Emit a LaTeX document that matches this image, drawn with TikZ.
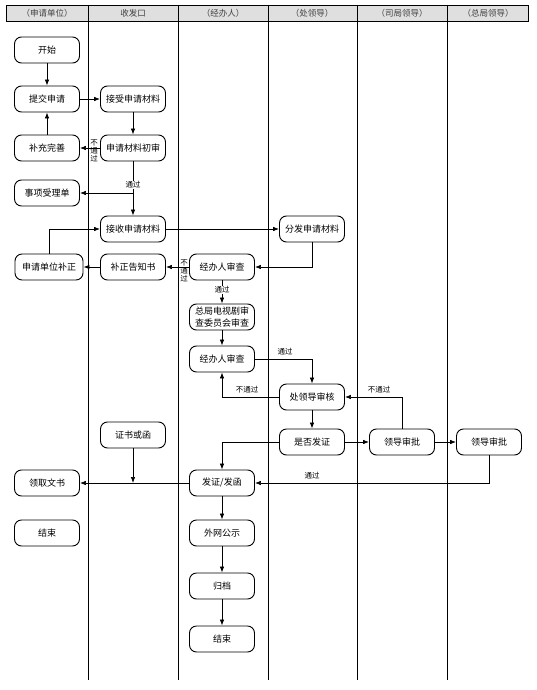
\documentclass[tikz,border=0pt]{standalone}
\usepackage{fontspec}
\setmainfont{Noto Sans CJK SC}
\usetikzlibrary{arrows.meta}

\begin{document}
\begin{tikzpicture}[x=1pt, y=-1pt, >={Latex[length=6pt,width=4.5pt]},
    box/.style={draw, rounded corners=7pt, line width=0.9pt, minimum width=65pt,
        minimum height=26pt, inner sep=1pt, align=center,
        font=\fontsize{9}{11.5}\selectfont},
    lbl/.style={inner sep=1pt, align=center, font=\fontsize{7.5}{8}\selectfont},
    hd/.style={text=black!75, font=\fontsize{8.5}{10}\selectfont},
    lane/.style={line width=0.9pt},
    link/.style={->, line width=0.7pt}]
    \useasboundingbox (0,0) rectangle (536,690);

    % swimlanes
    \draw[line width=0.8pt, fill=gray!25] (6,5) rectangle (528,21);
    \foreach \x in {88,178,268,357,447}
        \draw[lane] (\x,5) -- (\x,680);
    \node[hd] (hd1) at (47,13) {（申请单位）};
    \node[hd] (hd2) at (133,13) {收发口};
    \node[hd] (hd3) at (223,13) {（经办人）};
    \node[hd] (hd4) at (312,13) {（处领导）};
    \node[hd] (hd5) at (402,13) {（司局领导）};
    \node[hd] (hd6) at (488,13) {（总局领导）};

    % 申请单位
    \node[box] (kaishi) at (47,50) {开始};
    \node[box] (tijiao) at (47,99) {提交申请};
    \node[box] (buchong) at (47,148) {补充完善};
    \node[box] (shixiang) at (47,193) {事项受理单};
    \node[box, minimum width=68pt] (buzheng) at (49,267) {申请单位补正};
    \node[box] (lingqu) at (47,483) {领取文书};
    \node[box] (jieshu) at (47,533) {结束};

    % 收发口
    \node[box] (jieshou) at (133,99) {接受申请材料};
    \node[box] (chushen) at (133,148) {申请材料初审};
    \node[box] (jieshou2) at (133,229) {接收申请材料};
    \node[box] (gaozhi) at (133,267) {补正告知书};
    \node[box] (zhengshu) at (133,435) {证书或函};

    % 经办人
    \node[box] (shencha) at (222,267) {经办人审查};
    \node[box] (zongju) at (222,317) {总局电视剧审\\查委员会审查};
    \node[box] (shencha2) at (222,359) {经办人审查};
    \node[box] (fafa) at (222,483) {发证/发函};
    \node[box] (gongshi) at (222,533) {外网公示};
    \node[box] (guidang) at (222,586) {归档};
    \node[box] (jieshu2) at (222,639) {结束};

    % 处领导, 司局领导, 总局领导
    \node[box] (fenfa) at (312,229) {分发申请材料};
    \node[box] (chuling) at (312,397) {处领导审核};
    \node[box] (shifou) at (312,442) {是否发证};
    \node[box] (siju) at (402,442) {领导审批};
    \node[box] (zongling) at (489,442) {领导审批};

    \coordinate (fork) at (133,193);
    \coordinate (join) at (zhengshu |- fafa);

    \draw[link] (kaishi) -- (tijiao);
    \draw[link] (tijiao) -- (jieshou);
    \draw[link] (jieshou) -- (chushen);
    \draw[link] (chushen) -- (buchong);
    \draw[link] (buchong) -- (tijiao);
    \draw[link] (chushen) -- (jieshou2);
    \draw[link] (fork) -- (shixiang);
    \draw[link] (jieshou2) -- (fenfa);
    \draw[link] (fenfa) |- (shencha);
    \draw[link] (shencha) -- (gaozhi);
    \draw[link] (gaozhi) -- (buzheng);
    \draw[link] (buzheng) |- (jieshou2);
    \draw[link] (shencha) -- (zongju);
    \draw[link] (zongju) -- (shencha2);
    \draw[link] (shencha2) -| (chuling);
    \draw[link] (chuling) -| (shencha2);
    \draw[link] (chuling) -- (shifou);
    \draw[link] (shifou) -- (siju);
    \draw[link] (siju) -- (zongling);
    \draw[link] (siju) |- (chuling);
    \draw[link] (shifou) -| (fafa);
    \draw[link] (zongling) |- (fafa);
    \draw[link] (fafa) -- (lingqu);
    \draw[link] (zhengshu) -- (join);
    \draw[link] (fafa) -- (gongshi);
    \draw[link] (gongshi) -- (guidang);
    \draw[link] (guidang) -- (jieshu2);

    % labels
    \node[lbl] (btg1) at (94,151) {不\\通\\过};
    \node[lbl, fill=white] (tg1) at (133,185) {通过};
    \node[lbl] (btg2) at (184,271) {不\\通\\过};
    \node[lbl, fill=white] (tg2) at (222,290) {通过};
    \node[lbl] (tg3) at (285,352) {通过};
    \node[lbl] (btg3) at (247,390) {不通过};
    \node[lbl] (btg4) at (379,390) {不通过};
    \node[lbl] (tg4) at (312,476) {通过};
\end{tikzpicture}
\end{document}
